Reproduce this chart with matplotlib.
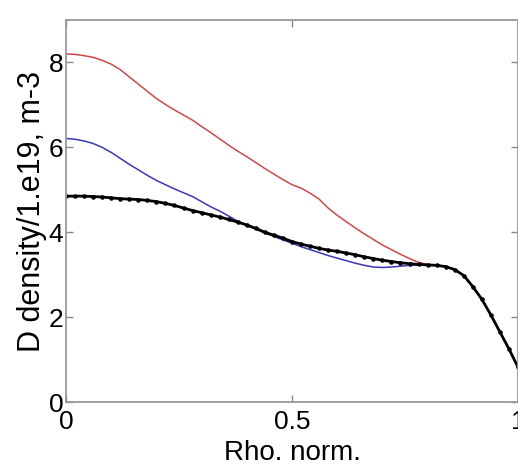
import numpy as np
import matplotlib
matplotlib.use("Agg")
import matplotlib.pyplot as plt

plt.rcParams['font.family'] = ['Liberation Sans', 'DejaVu Sans']

# radial grid (normalised rho)
rho = [0.00, 0.02, 0.04, 0.06, 0.08, 0.10, 0.12, 0.14, 0.16, 0.18,
       0.20, 0.22, 0.24, 0.26, 0.28, 0.30, 0.32, 0.34, 0.36, 0.38,
       0.40, 0.42, 0.44, 0.46, 0.48, 0.50, 0.52, 0.54, 0.56, 0.58,
       0.60, 0.62, 0.64, 0.66, 0.68, 0.70, 0.72, 0.74, 0.76, 0.78,
       0.80, 0.82, 0.84, 0.86, 0.88, 0.90, 0.92, 0.94, 0.96, 0.98, 1.00]

# measured profile (black, dots)
dens_meas = [4.85, 4.85, 4.85, 4.84, 4.83, 4.81, 4.79, 4.78, 4.77, 4.75,
             4.72, 4.68, 4.63, 4.57, 4.51, 4.46, 4.41, 4.36, 4.30, 4.24,
             4.17, 4.09, 4.00, 3.93, 3.86, 3.78, 3.72, 3.67, 3.62, 3.58,
             3.55, 3.51, 3.47, 3.42, 3.38, 3.34, 3.31, 3.28, 3.26, 3.24,
             3.23, 3.22, 3.19, 3.12, 2.98, 2.72, 2.42, 2.05, 1.65, 1.25, 0.82]

# red profile (core region only, joins the black one near rho=0.8)
rho_red = rho[:44]
dens_red = [8.20, 8.19, 8.16, 8.12, 8.05, 7.96, 7.83, 7.66, 7.49, 7.32,
            7.15, 7.01, 6.88, 6.76, 6.64, 6.49, 6.35, 6.20, 6.05, 5.91,
            5.78, 5.64, 5.50, 5.37, 5.24, 5.12, 5.04, 4.92, 4.78, 4.57,
            4.40, 4.25, 4.10, 3.96, 3.83, 3.70, 3.59, 3.48, 3.38, 3.29,
            3.24, 3.22, 3.19, 3.12]

# blue profile
rho_blue = rho[:44]
dens_blue = [6.21, 6.19, 6.15, 6.09, 6.00, 5.88, 5.74, 5.60, 5.47, 5.34,
             5.22, 5.12, 5.02, 4.93, 4.84, 4.72, 4.60, 4.50, 4.38, 4.26,
             4.16, 4.07, 3.98, 3.90, 3.82, 3.74, 3.66, 3.59, 3.52, 3.45,
             3.39, 3.33, 3.27, 3.22, 3.18, 3.17, 3.18, 3.20, 3.22, 3.23,
             3.23, 3.22, 3.19, 3.12]

fig = plt.figure(figsize=(5.18, 4.66), dpi=100)
ax = fig.add_axes([66/518, 1 - 402/466, 452/518, 382/466])

ax.plot(rho_red, dens_red, color='#d04848', lw=1.1)
ax.plot(rho_blue, dens_blue, color='#3838b8', lw=1.1)
ax.plot(rho, dens_meas, color='black', lw=2.0, marker='.', ms=4.5)

ax.set_xlim(0, 1)
ax.set_ylim(0, 9)
ax.set_xticks([0, 0.5, 1])
ax.set_xticklabels(['0', '0.5', '1'])
ax.set_yticks([0, 2, 4, 6, 8])

ax.tick_params(direction='in', length=5, width=1, colors='#888888',
               top=True, right=True, labelsize=19, labelcolor='black')
ax.tick_params(axis='x', pad=6)
ax.tick_params(axis='y', pad=2)
for s in ax.spines.values():
    s.set_color('#999999')
    s.set_linewidth(1.3)

ax.set_xlabel('Rho. norm.', fontsize=20, labelpad=4)
ax.set_ylabel('D density/1.e19, m-3', fontsize=22, labelpad=1)

fig.savefig('out.png', dpi=100)
